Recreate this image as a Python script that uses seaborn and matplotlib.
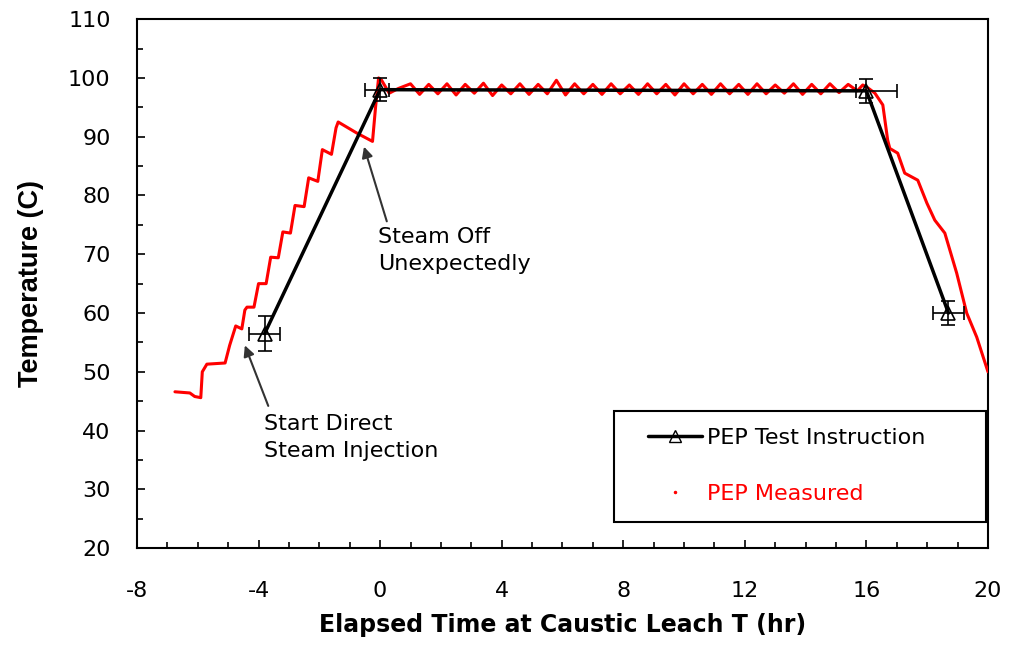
import numpy as np
import pandas as pd
import seaborn as sns
import matplotlib
matplotlib.use("Agg")
import matplotlib.pyplot as plt
from matplotlib.lines import Line2D
from matplotlib.patches import Rectangle
from matplotlib.ticker import MultipleLocator

# PEP Test Instruction (target profile with error bars)
instr_t = [-3.8, 0.0, 16.0, 18.7]
instr_temp = [56.5, 98.0, 97.8, 60.0]
instr_xerr_lo = [0.5, 0.5, 0.35, 0.5]
instr_xerr_hi = [0.5, 0.3, 1.0, 0.5]
instr_yerr = [3.0, 2.0, 2.0, 2.0]

# PEP Measured - heat-up ramp (stepwise)
ramp_t = [-6.75, -6.26, -6.1, -5.9, -5.85, -5.7, -5.1, -4.95, -4.75, -4.55,
          -4.45, -4.38, -4.15, -4.0, -3.75, -3.6, -3.35, -3.2, -2.95, -2.8,
          -2.5, -2.35, -2.05, -1.9, -1.6, -1.45, -1.38, -0.76, -0.25, -0.15,
          -0.05]
ramp_temp = [46.6, 46.4, 45.8, 45.6, 50.0, 51.3, 51.5, 54.5, 57.8, 57.3,
             60.5, 61.0, 61.0, 65.0, 65.0, 69.5, 69.4, 73.8, 73.6, 78.3,
             78.1, 83.0, 82.4, 87.8, 87.0, 91.5, 92.5, 90.6, 89.2, 95.0,
             100.0]

# PEP Measured - hold at ~98 C
hold_t = [0.05, 0.3, 0.6, 1.0, 1.3, 1.6, 1.9, 2.2, 2.5, 2.8, 3.1, 3.4, 3.7, 4.0,
          4.3, 4.6, 4.9, 5.2, 5.5, 5.8, 6.1, 6.4, 6.7, 7.0, 7.3, 7.6, 7.9, 8.2,
          8.5, 8.8, 9.1, 9.4, 9.7, 10.0, 10.3, 10.6, 10.9, 11.2, 11.5, 11.8,
          12.1, 12.4, 12.7, 13.0, 13.3, 13.6, 13.9, 14.2, 14.5, 14.8, 15.1,
          15.4, 15.7, 15.88, 16.05]
hold_temp = [99.6, 97.4, 98.2, 99.0, 97.2, 98.9, 97.3, 99.0, 97.1, 98.9, 97.4,
             99.1, 97.0, 98.8, 97.3, 99.0, 97.2, 98.9, 97.3, 99.6, 97.1, 99.0,
             97.3, 98.9, 97.2, 99.0, 97.3, 98.8, 97.2, 99.0, 97.3, 98.9, 97.1,
             99.0, 97.3, 98.9, 97.2, 99.0, 97.3, 98.9, 97.2, 99.0, 97.3, 98.8,
             97.4, 99.0, 97.2, 98.9, 97.3, 99.0, 97.5, 98.9, 97.8, 98.8, 98.3]

# PEP Measured - cool-down
cool_t = [16.28, 16.54, 16.7, 16.77, 17.03, 17.26, 17.69, 17.99, 18.25, 18.58,
          18.97, 19.3, 19.63, 20.0]
cool_temp = [97.4, 95.4, 89.4, 88.0, 87.2, 83.8, 82.6, 78.7, 75.8, 73.6,
             66.8, 60.0, 55.9, 50.0]

meas = pd.DataFrame({"t": ramp_t + hold_t + cool_t,
                     "temp": ramp_temp + hold_temp + cool_temp})
instr = pd.DataFrame({"t": instr_t, "temp": instr_temp})

sns.set_style("ticks")
plt.rcParams["font.family"] = ["DejaVu Sans"]
plt.rcParams["axes.unicode_minus"] = False
plt.rcParams["text.color"] = "black"
plt.rcParams["axes.labelcolor"] = "black"

fig = plt.figure(figsize=(10.1, 6.51), dpi=100)
ax = fig.add_axes([0.1356, 0.158, 0.8426, 0.8126])

sns.lineplot(data=meas, x="t", y="temp", sort=False, estimator=None,
             color="#ff0000", lw=2.2, ax=ax, zorder=3)
sns.lineplot(data=instr, x="t", y="temp", sort=False, estimator=None,
             color="black", lw=2.5, marker="^", markersize=10,
             markerfacecolor="none", markeredgecolor="black",
             markeredgewidth=1.2, ax=ax, zorder=4)
ax.errorbar(instr_t, instr_temp, xerr=[instr_xerr_lo, instr_xerr_hi],
            yerr=instr_yerr, fmt="none", ecolor="black", elinewidth=1.2,
            capsize=5, capthick=1.2, zorder=5)

ax.set_xlim(-8, 20)
ax.set_ylim(20, 110)
ax.xaxis.set_major_locator(MultipleLocator(4))
ax.xaxis.set_minor_locator(MultipleLocator(1))
ax.yaxis.set_major_locator(MultipleLocator(10))
ax.yaxis.set_minor_locator(MultipleLocator(5))
ax.tick_params(which="both", direction="in", top=False, right=False,
               labelsize=16, colors="black", width=1.2)
ax.tick_params(which="major", length=6)
ax.tick_params(which="minor", length=4)
ax.tick_params(axis="x", which="major", pad=24)
ax.tick_params(axis="y", which="major", pad=19)
for s in ax.spines.values():
    s.set_visible(True)
    s.set_color("black")
    s.set_linewidth(1.5)

ax.set_xlabel("Elapsed Time at Caustic Leach T (hr)", fontsize=17,
              fontweight="bold", labelpad=8)
ax.set_ylabel("Temperature (C)", fontsize=19.5, fontweight="bold",
              family="Liberation Sans", labelpad=17)

arrow = dict(arrowstyle="-|>", color="#333333", lw=1.5, mutation_scale=16,
             shrinkA=0, shrinkB=0)
ax.annotate("", xy=(-0.53, 88.3), xytext=(0.22, 75.6), arrowprops=arrow)
ax.text(-0.08, 74.6, "Steam Off\nUnexpectedly", fontsize=16, ha="left",
        va="top", linespacing=1.45)
ax.annotate("", xy=(-4.45, 54.5), xytext=(-3.68, 44.2), arrowprops=arrow)
ax.text(-3.82, 42.9, "Start Direct\nSteam Injection", fontsize=16, ha="left",
        va="top", linespacing=1.45)

# legend box (drawn separately so the padding matches)
ax.add_patch(Rectangle((0.5605, 0.049), 0.437, 0.21, transform=ax.transAxes,
                       facecolor="white", edgecolor="black", lw=1.5, zorder=6))
handles = [
    Line2D([], [], color="black", lw=2.5, marker="^", markersize=8,
           markerfacecolor="none", markeredgecolor="black"),
    Line2D([], [], color="#ff0000", lw=0, marker=".", markersize=3),
]
leg = ax.legend(handles, ["PEP Test Instruction", "PEP Measured"],
                loc="upper left", bbox_to_anchor=(0.601, 0.227),
                fontsize=16, frameon=False, borderpad=0, labelspacing=1.6,
                handlelength=2.4, handletextpad=0.25, borderaxespad=0)
leg.set_zorder(7)
leg.get_texts()[1].set_color("#ff0000")

fig.savefig("out.png", dpi=100, facecolor="white")
